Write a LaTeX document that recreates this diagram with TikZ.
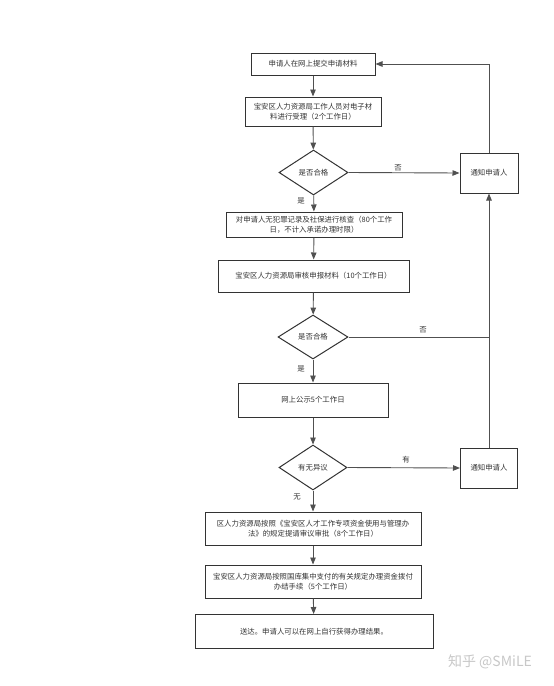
\documentclass[tikz,border=0pt]{standalone}
\usepackage{fontspec}
\setmainfont{Noto Sans CJK SC}
\usetikzlibrary{shapes.geometric,arrows.meta}
\definecolor{boxc}{HTML}{333333}
\definecolor{linec}{HTML}{505050}
\definecolor{txtc}{HTML}{333333}
\definecolor{wmc}{HTML}{C8C8C8}
\begin{document}
\begin{tikzpicture}[x=1pt,y=-1pt,
  every node/.style={text=txtc,font=\fontsize{7.4}{10}\selectfont},
  pbox/.style={draw=boxc,line width=1pt,rectangle,inner sep=0pt,align=center},
  dbox/.style={draw=boxc,line width=1pt,diamond,inner sep=0pt,aspect=1.5},
  conn/.style={draw=linec,line width=0.9pt},
  arr/.style={conn,-{Triangle[length=7pt,width=5.5pt]}},
  lbl/.style={inner sep=0pt}]
\useasboundingbox (0,0) rectangle (554,686);
\fill[white] (0,0) rectangle (554,686);
\node[pbox,minimum width=124pt,minimum height=22pt] (b1) at (313,64) {申请人在网上提交申请材料};
\node[pbox,minimum width=136pt,minimum height=29pt] (b2) at (313,111.5) {宝安区人力资源局工作人员对电子材\\料进行受理（2个工作日）};
\node[dbox,minimum width=69pt,minimum height=45pt] (d1) at (313.5,172.5) {是否合格};
\node[pbox,minimum width=58pt,minimum height=40pt] (n1) at (489,173) {通知申请人};
\node[pbox,minimum width=176pt,minimum height=25pt] (b3) at (314,224.5) {对申请人无犯罪记录及社保进行核查（80个工作\\日，不计入承诺办理时限）};
\node[pbox,minimum width=191pt,minimum height=32pt] (b4) at (313.5,276) {宝安区人力资源局审核申报材料（10个工作日）};
\node[dbox,minimum width=70pt,minimum height=44pt] (d2) at (313,337) {是否合格};
\node[pbox,minimum width=150pt,minimum height=34pt] (b5) at (313,400) {网上公示5个工作日};
\node[dbox,minimum width=68pt,minimum height=45pt] (d3) at (313,467.5) {有无异议};
\node[pbox,minimum width=57pt,minimum height=40pt] (n2) at (489,468) {通知申请人};
\node[pbox,minimum width=216pt,minimum height=33pt] (b6) at (313,528.5) {区人力资源局按照《宝安区人才工作专项资金使用与管理办\\法》的规定提请审议审批（8个工作日）};
\node[pbox,minimum width=216pt,minimum height=33pt] (b7) at (313,581.5) {宝安区人力资源局按照国库集中支付的有关规定办理资金拨付\\办结手续（5个工作日）};
\node[pbox,minimum width=238pt,minimum height=34pt] (b8) at (314,631.5) {送达。申请人可以在网上自行获得办理结果。};
\coordinate (j) at (n1.south |- d2.east);
\path[arr] (b1) -- (b2);
\path[arr] (b2) -- (d1);
\path[arr] (d1) -- (b3);
\path[arr] (b3) -- (b4);
\path[arr] (b4) -- (d2);
\path[arr] (d2) -- (b5);
\path[arr] (b5) -- (d3);
\path[arr] (d3) -- (b6);
\path[arr] (b6) -- (b7);
\path[arr] (b7) -- (b8);
\path[arr] (d1.east) -- (n1.west);
\path[arr] (d3.east) -- (n2.west);
\path[conn] (d2.east) -- (j);
\path[arr] (n2.north) -- (n1.south);
\path[arr] (n1.north) |- (b1.east);
\node[lbl] (l1) at (301,201) {是};
\node[lbl] (l2) at (398,168) {否};
\node[lbl] (l3) at (423,330) {否};
\node[lbl] (l4) at (301,369) {是};
\node[lbl] (l5) at (406,460) {有};
\node[lbl] (l6) at (297,497) {无};
\node[lbl,text=wmc,font=\fontsize{14}{16}\selectfont] (wm) at (490,662) {知乎 @SMiLE};
\end{tikzpicture}
\end{document}
